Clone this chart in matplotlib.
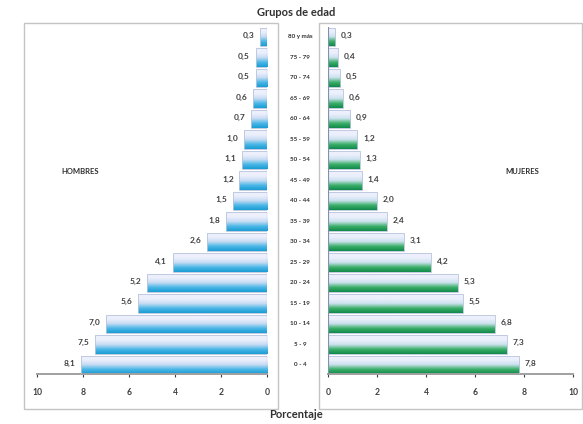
import numpy as np
import matplotlib
matplotlib.use('Agg')
import matplotlib.pyplot as plt
from matplotlib.colors import LinearSegmentedColormap
from matplotlib.patches import Rectangle

# age groups, bottom to top
grupos = ['0 - 4', '5 - 9', '10 - 14', '15 - 19', '20 - 24', '25 - 29',
          '30 - 34', '35 - 39', '40 - 44', '45 - 49', '50 - 54', '55 - 59',
          '60 - 64', '65 - 69', '70 - 74', '75 - 79', '80 y más']
hombres = [8.1, 7.5, 7.0, 5.6, 5.2, 4.1, 2.6, 1.8, 1.5, 1.2, 1.1, 1.0,
           0.7, 0.6, 0.5, 0.5, 0.3]
mujeres = [7.8, 7.3, 6.8, 5.5, 5.3, 4.2, 3.1, 2.4, 2.0, 1.4, 1.3, 1.2,
           0.9, 0.6, 0.5, 0.4, 0.3]
xticks = [0, 2, 4, 6, 8, 10]

plt.rcParams['font.family'] = ['Lato', 'DejaVu Sans']
W, H = 583, 424
fig = plt.figure(figsize=(W / 100, H / 100), dpi=100)

def fx(px):
    return px / W

def fy(py):
    return 1 - py / H

# panel frames
for x0, x1 in [(24, 278), (319, 582)]:
    fig.patches.append(Rectangle((fx(x0), fy(409)), fx(x1 - x0), (409 - 23) / H,
                                 transform=fig.transFigure, fill=False,
                                 edgecolor='#c4c4c4', linewidth=1.0))

blue = LinearSegmentedColormap.from_list('b', ['#1a9cd4', '#4cb8e6', '#c8dcf4', '#eceffc', '#eef0fc'])
green = LinearSegmentedColormap.from_list('g', ['#11894a', '#3cb06a', '#cce2ee', '#eceffc', '#eef0fc'])
grad = np.linspace(0, 1, 64).reshape(-1, 1)

bot, top = 374, 26.75
axL = fig.add_axes([fx(37), fy(bot), fx(230), (bot - top) / H])
axR = fig.add_axes([fx(328), fy(bot), fx(245), (bot - top) / H])

y = np.arange(len(grupos))
for ax, vals, cmap, side in [(axL, hombres, blue, -1), (axR, mujeres, green, 1)]:
    bars = ax.barh(y, vals, height=0.9, facecolor='none', edgecolor='#b8c4dc',
                   linewidth=0.6, zorder=3)
    for b, v in zip(bars, vals):
        yb = b.get_y()
        im = ax.imshow(grad, cmap=cmap, aspect='auto', origin='lower',
                       extent=[0, v, yb, yb + b.get_height()], zorder=2)
        im.set_clip_path(b)
        lab = '{:.1f}'.format(v).replace('.', ',')
        ax.annotate(lab, (v, yb + b.get_height() / 2), xytext=(side * 4, 1),
                    textcoords='offset points',
                    ha='right' if side < 0 else 'left', va='center',
                    fontsize=6, fontweight='bold', color='#404040')
    ax.set_xlim(0, 10)
    ax.set_ylim(-0.45, len(grupos) - 0.5)
    ax.set_xticks(xticks)
    ax.set_xticklabels([str(t) for t in xticks])
    ax.set_yticks([])
    ax.tick_params(axis='x', labelsize=6.2, colors='#404040', length=2,
                   width=0.8, pad=8)
    for t in ax.get_xticklabels():
        t.set_fontweight('bold')
    ax.patch.set_alpha(0)
    for s in ['top', 'left', 'right']:
        ax.spines[s].set_visible(False)
    ax.spines['bottom'].set_color('#a0a0a0')
    ax.spines['bottom'].set_linewidth(1.4)

axL.invert_xaxis()
axL.axvline(0, color='#8090b0', linewidth=0.8, zorder=4)
axR.axvline(0, color='#8090b0', linewidth=0.8, zorder=4)

# age group labels between panels
for i, g in enumerate(grupos):
    yy = axL.transData.transform((0, i))[1]
    fig.text(fx(300), yy / fig.dpi / fig.get_figheight(), g, ha='center',
             va='center', fontsize=4.5, fontweight='bold', color='#303030')

fig.text(fx(296), fy(12), 'Grupos de edad', ha='center', va='center',
         fontsize=8, fontweight='bold', color='#303030')
fig.text(fx(296), fy(415), 'Porcentaje', ha='center', va='center',
         fontsize=8, fontweight='bold', color='#303030')
fig.text(fx(80), fy(172), 'HOMBRES', ha='center', va='center',
         fontsize=5.5, fontweight='bold', color='#303030')
fig.text(fx(522), fy(172), 'MUJERES', ha='center', va='center',
         fontsize=5.5, fontweight='bold', color='#303030')

fig.savefig('out.png', dpi=100)
